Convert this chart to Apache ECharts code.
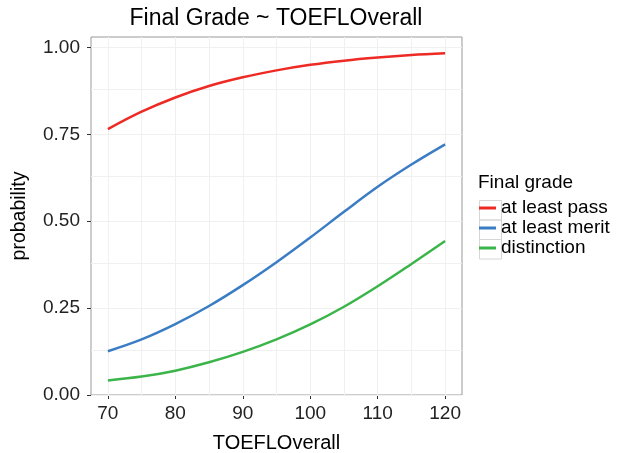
<!DOCTYPE html>
<html>
<head>
<meta charset="utf-8">
<script src="https://cdn.jsdelivr.net/npm/echarts@6/dist/echarts.min.js"></script>
<style>
  html, body { margin: 0; padding: 0; background: #fff; }
  #main { width: 617px; height: 453px; }
</style>
</head>
<body>
<div id="main"></div>
<script>
// TOEFL overall scores and predicted probabilities
var toefl = [70, 75, 80, 85, 90, 95, 100, 105, 110, 115, 120];
var atLeastPass = [0.765, 0.815, 0.856, 0.889, 0.914, 0.934, 0.950, 0.962, 0.971, 0.978, 0.983];
var atLeastMerit = [0.126, 0.160, 0.204, 0.256, 0.316, 0.382, 0.453, 0.527, 0.599, 0.663, 0.721];
var distinction = [0.042, 0.053, 0.070, 0.094, 0.124, 0.160, 0.203, 0.254, 0.313, 0.377, 0.443];

var xTicks = [70, 80, 90, 100, 110, 120];
var xMinor = [75, 85, 95, 105, 115];
var yTicks = [0, 0.25, 0.5, 0.75, 1];
var yMinor = [0.125, 0.375, 0.625, 0.875];

var seriesNames = ['at least pass', 'at least merit', 'distinction'];
var seriesColors = ['#EE2A24', '#3B7DC4', '#3BB44A'];

var font = '"Liberation Sans", Arial, sans-serif';

function pairs(ys) {
  return toefl.map(function (x, i) { return [x, ys[i]]; });
}

var chart = echarts.init(document.getElementById('main'), null, { renderer: 'canvas' });

// grid lines (ggplot style major + minor)
var gridLines = [];
xTicks.concat(xMinor).forEach(function (v) { gridLines.push({ xAxis: v }); });
yTicks.concat(yMinor).forEach(function (v) { gridLines.push({ yAxis: v }); });

var option = {
  animation: false,
  backgroundColor: '#fff',
  grid: {
    left: 91, top: 37, width: 371, height: 358,
    outerBoundsMode: 'none',
    containLabel: false,
    show: true, borderColor: '#999', borderWidth: 1, backgroundColor: '#fff'
  },
  legend: {
    orient: 'vertical',
    left: 479,
    top: 198,
    icon: 'rect',
    itemWidth: 17,
    itemHeight: 3,
    itemGap: 0,
    padding: 0,
    data: seriesNames,
    textStyle: { fontFamily: font, fontSize: 19, color: '#000', lineHeight: 20 }
  },
  graphic: [
    { type: 'text', x: 276, y: 19,
      style: { text: 'Final Grade ~ TOEFLOverall', font: '23px ' + font, fill: '#000',
               align: 'center', verticalAlign: 'middle' } },
    { type: 'text', left: 478, top: 173,
      style: { text: 'Final grade', font: '19px ' + font, fill: '#000' } },
    { type: 'rect', left: 477, top: 198, shape: { width: 22, height: 19.5 },
      style: { fill: 'none', stroke: '#D6D6D6', lineWidth: 1 }, z: -1 },
    { type: 'rect', left: 477, top: 217.5, shape: { width: 22, height: 19.5 },
      style: { fill: 'none', stroke: '#D6D6D6', lineWidth: 1 }, z: -1 },
    { type: 'rect', left: 477, top: 237, shape: { width: 22, height: 19.5 },
      style: { fill: 'none', stroke: '#D6D6D6', lineWidth: 1 }, z: -1 }
  ],
  xAxis: {
    type: 'value',
    min: 67.5,
    max: 122.5,
    name: 'TOEFLOverall',
    nameLocation: 'middle',
    nameGap: 38,
    nameTextStyle: { fontFamily: font, fontSize: 20, color: '#000' },
    axisLine: { show: false },
    splitLine: { show: false },
    axisTick: { show: true, length: 4, customValues: xTicks, lineStyle: { color: '#333' } },
    axisLabel: { customValues: xTicks, margin: 9, fontFamily: font, fontSize: 19, color: '#222' }
  },
  yAxis: {
    type: 'value',
    min: 0,
    max: 1.03,
    name: 'probability',
    nameLocation: 'middle',
    nameGap: 61,
    nameTextStyle: { fontFamily: font, fontSize: 19.5, color: '#000' },
    axisLine: { show: false },
    splitLine: { show: false },
    axisTick: { show: true, length: 4, customValues: yTicks, lineStyle: { color: '#333' } },
    axisLabel: {
      customValues: yTicks, margin: 11, fontFamily: font, fontSize: 19, color: '#222',
      formatter: function (v) { return v.toFixed(2); }
    }
  },
  series: [
    {
      name: 'grid', type: 'line', data: [], silent: true, z: 0,
      markLine: {
        silent: true, symbol: 'none', animation: false, z: 1,
        label: { show: false },
        lineStyle: { color: '#F0F0F0', width: 1, type: 'solid' },
        emphasis: { disabled: true },
        data: gridLines
      }
    }
  ].concat(seriesNames.map(function (name, i) {
    var ys = [atLeastPass, atLeastMerit, distinction][i];
    return {
      name: name,
      type: 'line',
      smooth: 0.35,
      showSymbol: false,
      z: 3,
      color: seriesColors[i],
      lineStyle: { width: 2.5, color: seriesColors[i] },
      data: pairs(ys)
    };
  }))
};

chart.setOption(option);
</script>
</body>
</html>
